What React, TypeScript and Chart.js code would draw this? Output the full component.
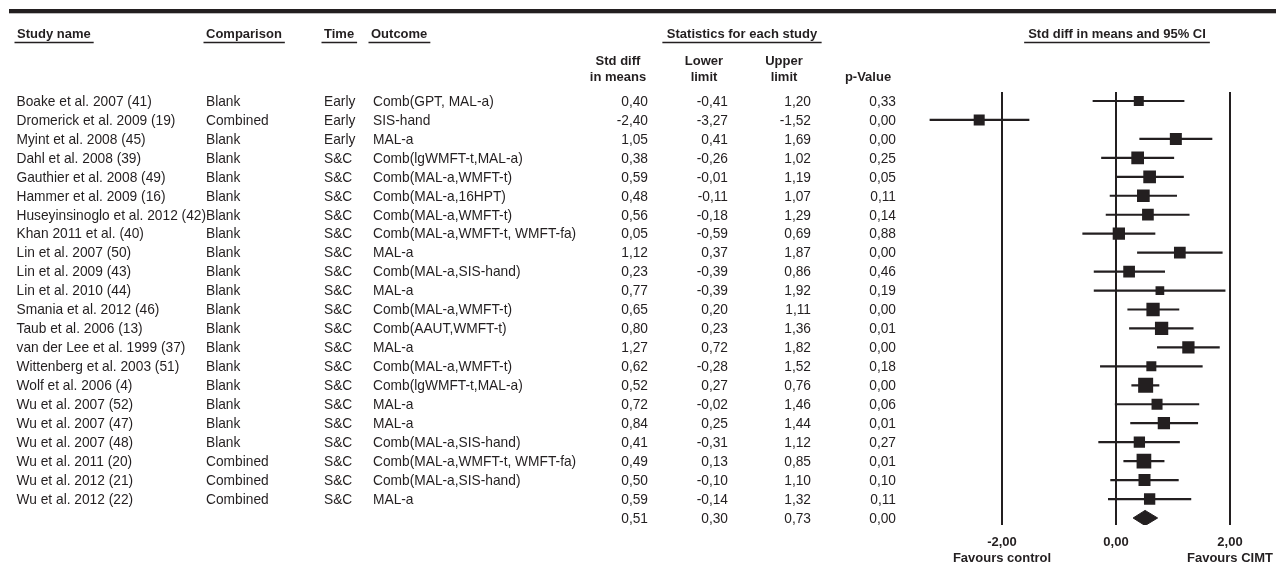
import React, { useEffect, useRef } from "react";
import { Chart, registerables } from "chart.js";

Chart.register(...registerables);

// ---------- data ----------
const studies = [
  "Boake et al. 2007 (41)",
  "Dromerick et al. 2009 (19)",
  "Myint et al. 2008 (45)",
  "Dahl et al. 2008 (39)",
  "Gauthier et al. 2008 (49)",
  "Hammer et al. 2009 (16)",
  "Huseyinsinoglo et al. 2012 (42)",
  "Khan 2011 et al. (40)",
  "Lin et al. 2007 (50)",
  "Lin et al. 2009 (43)",
  "Lin et al. 2010 (44)",
  "Smania et al. 2012 (46)",
  "Taub et al. 2006 (13)",
  "van der Lee et al. 1999 (37)",
  "Wittenberg et al. 2003 (51)",
  "Wolf et al. 2006 (4)",
  "Wu et al. 2007 (52)",
  "Wu et al. 2007 (47)",
  "Wu et al. 2007 (48)",
  "Wu et al. 2011 (20)",
  "Wu et al. 2012 (21)",
  "Wu et al. 2012 (22)",
];

const comparisons = [
  "Blank", "Combined", "Blank", "Blank", "Blank", "Blank", "Blank", "Blank",
  "Blank", "Blank", "Blank", "Blank", "Blank", "Blank", "Blank", "Blank",
  "Blank", "Blank", "Blank", "Combined", "Combined", "Combined",
];

const times = [
  "Early", "Early", "Early", "S&C", "S&C", "S&C", "S&C", "S&C", "S&C", "S&C", "S&C",
  "S&C", "S&C", "S&C", "S&C", "S&C", "S&C", "S&C", "S&C", "S&C", "S&C", "S&C",
];

const outcomes = [
  "Comb(GPT, MAL-a)",
  "SIS-hand",
  "MAL-a",
  "Comb(lgWMFT-t,MAL-a)",
  "Comb(MAL-a,WMFT-t)",
  "Comb(MAL-a,16HPT)",
  "Comb(MAL-a,WMFT-t)",
  "Comb(MAL-a,WMFT-t, WMFT-fa)",
  "MAL-a",
  "Comb(MAL-a,SIS-hand)",
  "MAL-a",
  "Comb(MAL-a,WMFT-t)",
  "Comb(AAUT,WMFT-t)",
  "MAL-a",
  "Comb(MAL-a,WMFT-t)",
  "Comb(lgWMFT-t,MAL-a)",
  "MAL-a",
  "MAL-a",
  "Comb(MAL-a,SIS-hand)",
  "Comb(MAL-a,WMFT-t, WMFT-fa)",
  "Comb(MAL-a,SIS-hand)",
  "MAL-a",
];

const stdDiff = [0.40, -2.40, 1.05, 0.38, 0.59, 0.48, 0.56, 0.05, 1.12, 0.23, 0.77, 0.65, 0.80, 1.27, 0.62, 0.52, 0.72, 0.84, 0.41, 0.49, 0.50, 0.59];
const lowerLimit = [-0.41, -3.27, 0.41, -0.26, -0.01, -0.11, -0.18, -0.59, 0.37, -0.39, -0.39, 0.20, 0.23, 0.72, -0.28, 0.27, -0.02, 0.25, -0.31, 0.13, -0.10, -0.14];
const upperLimit = [1.20, -1.52, 1.69, 1.02, 1.19, 1.07, 1.29, 0.69, 1.87, 0.86, 1.92, 1.11, 1.36, 1.82, 1.52, 0.76, 1.46, 1.44, 1.12, 0.85, 1.10, 1.32];
const pValues = [0.33, 0.00, 0.00, 0.25, 0.05, 0.11, 0.14, 0.88, 0.00, 0.46, 0.19, 0.00, 0.01, 0.00, 0.18, 0.00, 0.06, 0.01, 0.27, 0.01, 0.10, 0.11];
// relative study weights (%) — drive the box sizes
const weights = [3.12, 3.78, 4.49, 5.02, 5.02, 5.02, 4.28, 4.71, 4.28, 4.28, 2.37, 5.52, 5.52, 4.71, 3.12, 7.02, 3.78, 4.71, 4.0, 6.74, 4.49, 4.0];

const summaryStdDiff = 0.51;
const summaryLower = 0.30;
const summaryUpper = 0.73;
const summaryP = 0.0;

const xTickValues = [-2, 0, 2];
const xTickNotes = ["Favours control", "", "Favours CIMT"];

// ---------- styling ----------
const INK = "#231f20";
const FONT = "'Liberation Sans', Arial, Helvetica, sans-serif";
const BOX_SCALE = 5.66; // px side per sqrt(weight)
const DIAMOND_HALF = 0.4; // in row units

const fmt = (v: number) => v.toFixed(2).replace(".", ",");

const tablePlugin = {
  id: "forestTable",
  afterDraw(chart: any) {
    const ctx: CanvasRenderingContext2D = chart.ctx;
    const yScale = chart.scales.y;
    ctx.save();
    ctx.fillStyle = INK;
    ctx.strokeStyle = INK;

    // top thick rule
    ctx.fillRect(9, 9, 1267, 4.3);

    const underline = (x1: number, x2: number, y: number) => {
      ctx.save();
      ctx.lineWidth = 1.4;
      ctx.beginPath();
      ctx.moveTo(x1, y);
      ctx.lineTo(x2, y);
      ctx.stroke();
      ctx.restore();
    };

    ctx.font = `bold 13px ${FONT}`;
    ctx.textBaseline = "middle";
    const headY = 34.5;
    const ulY = 42.5;
    const leftHeader = (t: string, x: number) => {
      ctx.textAlign = "left";
      ctx.fillText(t, x, headY);
      const w = ctx.measureText(t).width;
      underline(x - 2.5, x + w + 3, ulY);
    };
    const centerHeader = (t: string, cx: number, pad: number) => {
      ctx.textAlign = "center";
      ctx.fillText(t, cx, headY);
      const w = ctx.measureText(t).width;
      underline(cx - w / 2 - pad, cx + w / 2 + pad, ulY);
    };
    leftHeader("Study name", 17);
    leftHeader("Comparison", 206);
    leftHeader("Time", 324);
    leftHeader("Outcome", 371);
    centerHeader("Statistics for each study", 742, 4.5);
    centerHeader("Std diff in means and 95% CI", 1117, 4);

    ctx.textAlign = "center";
    const l1 = 61.5;
    const l2 = 77;
    ctx.fillText("Std diff", 618, l1);
    ctx.fillText("in means", 618, l2);
    ctx.fillText("Lower", 704, l1);
    ctx.fillText("limit", 704, l2);
    ctx.fillText("Upper", 784, l1);
    ctx.fillText("limit", 784, l2);
    ctx.fillText("p-Value", 868, l2);

    // rows
    ctx.font = `13.75px ${FONT}`;
    const numCols = [648, 728, 811, 896];
    studies.forEach((name, i) => {
      const y = yScale.getPixelForValue(i) + 1;
      ctx.textAlign = "left";
      ctx.fillText(name, 16.5, y);
      ctx.fillText(comparisons[i], 206, y);
      ctx.fillText(times[i], 324, y);
      ctx.fillText(outcomes[i], 373, y);
      ctx.textAlign = "right";
      ctx.fillText(fmt(stdDiff[i]), numCols[0], y);
      ctx.fillText(fmt(lowerLimit[i]), numCols[1], y);
      ctx.fillText(fmt(upperLimit[i]), numCols[2], y);
      ctx.fillText(fmt(pValues[i]), numCols[3], y);
    });
    const ys = yScale.getPixelForValue(studies.length) + 1;
    ctx.textAlign = "right";
    ctx.fillText(fmt(summaryStdDiff), numCols[0], ys);
    ctx.fillText(fmt(summaryLower), numCols[1], ys);
    ctx.fillText(fmt(summaryUpper), numCols[2], ys);
    ctx.fillText(fmt(summaryP), numCols[3], ys);

    ctx.restore();
  },
};

export default function App() {
  const ref = useRef<HTMLCanvasElement | null>(null);

  useEffect(() => {
    if (!ref.current) return;
    const sRow = studies.length;

    const whiskerData: any[] = [];
    studies.forEach((_, i) => {
      whiskerData.push({ x: lowerLimit[i], y: i });
      whiskerData.push({ x: upperLimit[i], y: i });
      whiskerData.push({ x: null, y: null });
    });

    const boxData = stdDiff.map((v, i) => ({ x: v, y: i }));
    const boxRadius = weights.map((w) => (BOX_SCALE * Math.sqrt(w)) / (2 * Math.SQRT1_2));

    const diamondData = [
      { x: summaryLower, y: sRow },
      { x: summaryStdDiff, y: sRow - DIAMOND_HALF },
      { x: summaryUpper, y: sRow },
      { x: summaryStdDiff, y: sRow + DIAMOND_HALF },
      { x: summaryLower, y: sRow },
    ];

    const chart = new Chart(ref.current, {
      type: "scatter",
      data: {
        datasets: [
          {
            type: "scatter",
            label: "Std diff in means",
            data: boxData,
            pointStyle: "rect",
            pointRadius: boxRadius,
            backgroundColor: INK,
            borderWidth: 0,
            order: 0,
          } as any,
          {
            type: "line",
            label: "95% CI",
            data: whiskerData,
            borderColor: INK,
            borderWidth: 2.2,
            pointRadius: 0,
            fill: false,
            spanGaps: false,
            tension: 0,
            order: 1,
          } as any,
          {
            type: "line",
            label: "Summary",
            data: diamondData,
            borderColor: INK,
            backgroundColor: INK,
            borderWidth: 1,
            pointRadius: 0,
            fill: "shape",
            tension: 0,
            order: 2,
          } as any,
        ],
      },
      options: {
        responsive: false,
        animation: false,
        events: [],
        layout: { padding: { left: 888, right: 17.5, top: 92, bottom: 0 } },
        plugins: {
          legend: { display: false },
          tooltip: { enabled: false },
        },
        scales: {
          x: {
            type: "linear",
            min: -4,
            max: 2.5,
            afterBuildTicks: (scale: any) => {
              scale.ticks = xTickValues.map((v) => ({ value: v }));
            },
            afterFit: (scale: any) => {
              scale.height = 41;
              scale.paddingLeft = 0;
              scale.paddingRight = 0;
            },
            ticks: {
              autoSkip: false,
              maxRotation: 0,
              padding: 9,
              color: INK,
              font: { family: FONT, size: 13, weight: "bold", lineHeight: 1.25 },
              callback: (value: any) => {
                const idx = xTickValues.indexOf(Number(value));
                const note = idx >= 0 ? xTickNotes[idx] : "";
                const label = fmt(Number(value));
                return note ? [label, note] : label;
              },
            },
            grid: { color: INK, lineWidth: 2, drawTicks: false },
            border: { display: false },
          },
          y: {
            type: "linear",
            reverse: true,
            min: -0.475,
            max: 22.37,
            display: false,
          },
        },
      } as any,
      plugins: [tablePlugin],
    });

    return () => chart.destroy();
  }, []);

  return (
    <div style={{ position: "absolute", left: 0, top: 0, width: 1276, height: 566, background: "#fff" }}>
      <canvas ref={ref} width={1276} height={566} />
    </div>
  );
}
